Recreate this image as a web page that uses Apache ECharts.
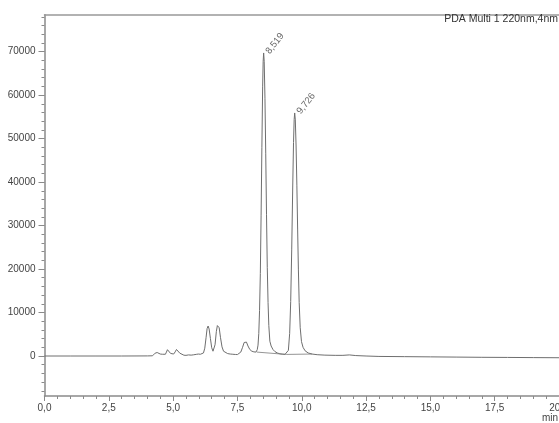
<!DOCTYPE html>
<html>
<head>
<meta charset="utf-8">
<script src="https://cdn.jsdelivr.net/npm/echarts@6/dist/echarts.min.js"></script>
<style>
html,body{margin:0;padding:0;background:#fff;}
#chart{width:559px;height:423px;}
</style>
</head>
<body>
<div id="chart"></div>
<script>
// Retention time (min)
const rt = [0.0, 1.0, 2.0, 3.0, 4.0, 4.2, 4.26, 4.3, 4.34, 4.38, 4.43, 4.5, 4.58, 4.65, 4.7, 4.74, 4.78, 4.81, 4.85, 4.9, 4.96, 5.02, 5.08, 5.13, 5.16, 5.2, 5.26, 5.33, 5.42, 5.5, 5.6, 5.7, 5.8, 5.9, 5.98, 6.06, 6.12, 6.18, 6.23, 6.28, 6.32, 6.36, 6.4, 6.45, 6.5, 6.55, 6.59, 6.63, 6.68, 6.72, 6.75, 6.79, 6.84, 6.9, 6.96, 7.03, 7.12, 7.22, 7.32, 7.42, 7.5, 7.57, 7.63, 7.7, 7.76, 7.8, 7.85, 7.91, 7.98, 8.06, 8.14, 8.22, 8.27, 8.3, 8.33, 8.36, 8.39, 8.42, 8.45, 8.48, 8.5, 8.519, 8.54, 8.57, 8.6, 8.63, 8.66, 8.69, 8.72, 8.76, 8.81, 8.88, 8.96, 9.05, 9.15, 9.25, 9.35, 9.42, 9.48, 9.53, 9.57, 9.61, 9.65, 9.68, 9.705, 9.726, 9.75, 9.78, 9.81, 9.84, 9.87, 9.9, 9.94, 9.99, 10.05, 10.13, 10.25, 10.4, 10.6, 10.9, 11.3, 11.6, 11.85, 12.1, 12.5, 13.0, 14.0, 15.0, 16.0, 17.0, 18.0, 19.0, 20.0];
// Detector signal
const signal = [0, 0, 0, 0, 20, 50, 200, 650, 900, 800, 550, 450, 400, 280, 400, 900, 1450, 1500, 1150, 600, 400, 450, 950, 1500, 1550, 1250, 650, 300, 180, 150, 250, 200, 280, 380, 450, 400, 350, 700, 1800, 4200, 6300, 6900, 6200, 4000, 1900, 1100, 1200, 2600, 5600, 7000, 7250, 6500, 4300, 2100, 1100, 700, 550, 450, 400, 350, 330, 450, 900, 2000, 3100, 3450, 3200, 2300, 1500, 1100, 950, 900, 1450, 2500, 5200, 10500, 19000, 32400, 48000, 61900, 67800, 69700, 67800, 59300, 46500, 32600, 20400, 12300, 7000, 3400, 2300, 1500, 1000, 700, 500, 420, 380, 700, 1300, 5200, 12500, 24400, 39100, 49100, 54400, 55900, 54300, 48300, 39300, 29200, 19800, 12300, 6500, 3300, 2000, 1200, 700, 450, 300, 200, 150, 150, 250, 100, 0, -100, -150, -200, -250, -300, -330, -370, -400];

// Integration baselines drawn under the two main peaks
const baseline1T = [8.25, 9.4];
const baseline1V = [900, 360];
const baseline2T = [9.4, 10.4];
const baseline2V = [360, 450];

// Peak annotations
const peakTimes = [8.519, 9.726];
const peakHeights = [69700, 55900];
const peakLabels = ['8,519', '9,726'];

// Axis ticks
const yMajorTicks = [0, 10000, 20000, 30000, 40000, 50000, 60000, 70000];
const yMinorTicks = [-8000, -6000, -4000, -2000, 0, 2000, 4000, 6000, 8000, 10000, 12000, 14000, 16000, 18000, 20000, 22000, 24000, 26000, 28000, 30000, 32000, 34000, 36000, 38000, 40000, 42000, 44000, 46000, 48000, 50000, 52000, 54000, 56000, 58000, 60000, 62000, 64000, 66000, 68000, 70000, 72000, 74000, 76000, 78000];

const titleText = 'PDA Multi 1 220nm,4nm';
const xUnit = 'min';

const FONT = 'Liberation Sans, Arial, sans-serif';
const AXIS_COLOR = '#8a8a8a';
const TEXT_COLOR = '#444';
const Y_MIN = -9200, Y_MAX = 78500;

const chart = echarts.init(document.getElementById('chart'), null, {renderer: 'canvas'});
const lineData = rt.map((t, i) => [t, signal[i]]);
const b1 = baseline1T.map((t, i) => [t, baseline1V[i]]);
const b2 = baseline2T.map((t, i) => [t, baseline2V[i]]);
const peaks = peakTimes.map((t, i) => [t, peakHeights[i], peakLabels[i]]);

chart.setOption({
  animation: false,
  backgroundColor: '#fff',
  textStyle: {fontFamily: FONT},
  title: {
    text: titleText,
    right: 1, top: 14,
    textStyle: {fontSize: 10.5, fontWeight: 'normal', color: '#333', fontFamily: FONT},
    padding: 0
  },
  graphic: [{
    type: 'text', right: 1, bottom: 0,
    style: {text: xUnit, fontSize: 10, fill: TEXT_COLOR, fontFamily: FONT}
  }],
  grid: {left: 44.5, right: 0, top: 14.7, bottom: 27, containLabel: false, outerBoundsMode: 'none'},
  xAxis: [{
    type: 'value', min: 0, max: 20, interval: 2.5,
    axisLine: {show: true, onZero: false, lineStyle: {color: AXIS_COLOR, width: 1.5}},
    axisTick: {show: true, length: 5, lineStyle: {color: AXIS_COLOR, width: 1}},
    minorTick: {show: true, splitNumber: 5, length: 3, lineStyle: {color: AXIS_COLOR, width: 1}},
    axisLabel: {
      fontSize: 10, color: TEXT_COLOR, margin: 7, fontFamily: FONT, hideOverlap: false,
      showMaxLabel: true, showMinLabel: true,
      formatter: v => v.toFixed(1).replace('.', ',')
    },
    splitLine: {show: false}
  }, {
    type: 'value', position: 'top', min: 0, max: 20,
    axisLine: {show: true, onZero: false, lineStyle: {color: '#999', width: 1.5}},
    axisTick: {show: false}, axisLabel: {show: false}, splitLine: {show: false}
  }],
  yAxis: [{
    type: 'value', min: Y_MIN, max: Y_MAX,
    axisLine: {show: true, onZero: false, lineStyle: {color: AXIS_COLOR, width: 1.5}},
    axisTick: {show: true, customValues: yMajorTicks, length: 6, lineStyle: {color: AXIS_COLOR, width: 1}},
    axisLabel: {
      customValues: yMajorTicks, fontSize: 10, color: TEXT_COLOR, margin: 9, fontFamily: FONT,
      formatter: v => String(v)
    },
    splitLine: {show: false}
  }, {
    type: 'value', min: Y_MIN, max: Y_MAX, position: 'left',
    axisLine: {show: false},
    axisTick: {show: true, customValues: yMinorTicks, length: 3, lineStyle: {color: AXIS_COLOR, width: 1}},
    axisLabel: {show: false},
    splitLine: {show: false}
  }],
  series: [{
    type: 'line', name: 'signal', data: lineData, showSymbol: false, symbol: 'none',
    lineStyle: {color: '#6e6e6e', width: 1}, z: 3, clip: true
  }, {
    type: 'line', name: 'baseline1', data: b1, showSymbol: false, symbol: 'none',
    lineStyle: {color: '#7a7a7a', width: 0.8}
  }, {
    type: 'line', name: 'baseline2', data: b2, showSymbol: false, symbol: 'none',
    lineStyle: {color: '#7a7a7a', width: 0.8}
  }, {
    type: 'scatter', name: 'peaks', data: peaks, symbolSize: 0,
    label: {
      show: true, position: 'right', distance: 4, rotate: 52,
      align: 'left', verticalAlign: 'middle',
      fontSize: 9.5, color: '#444', fontFamily: FONT,
      formatter: p => p.data[2]
    }
  }]
});
</script>
</body>
</html>
